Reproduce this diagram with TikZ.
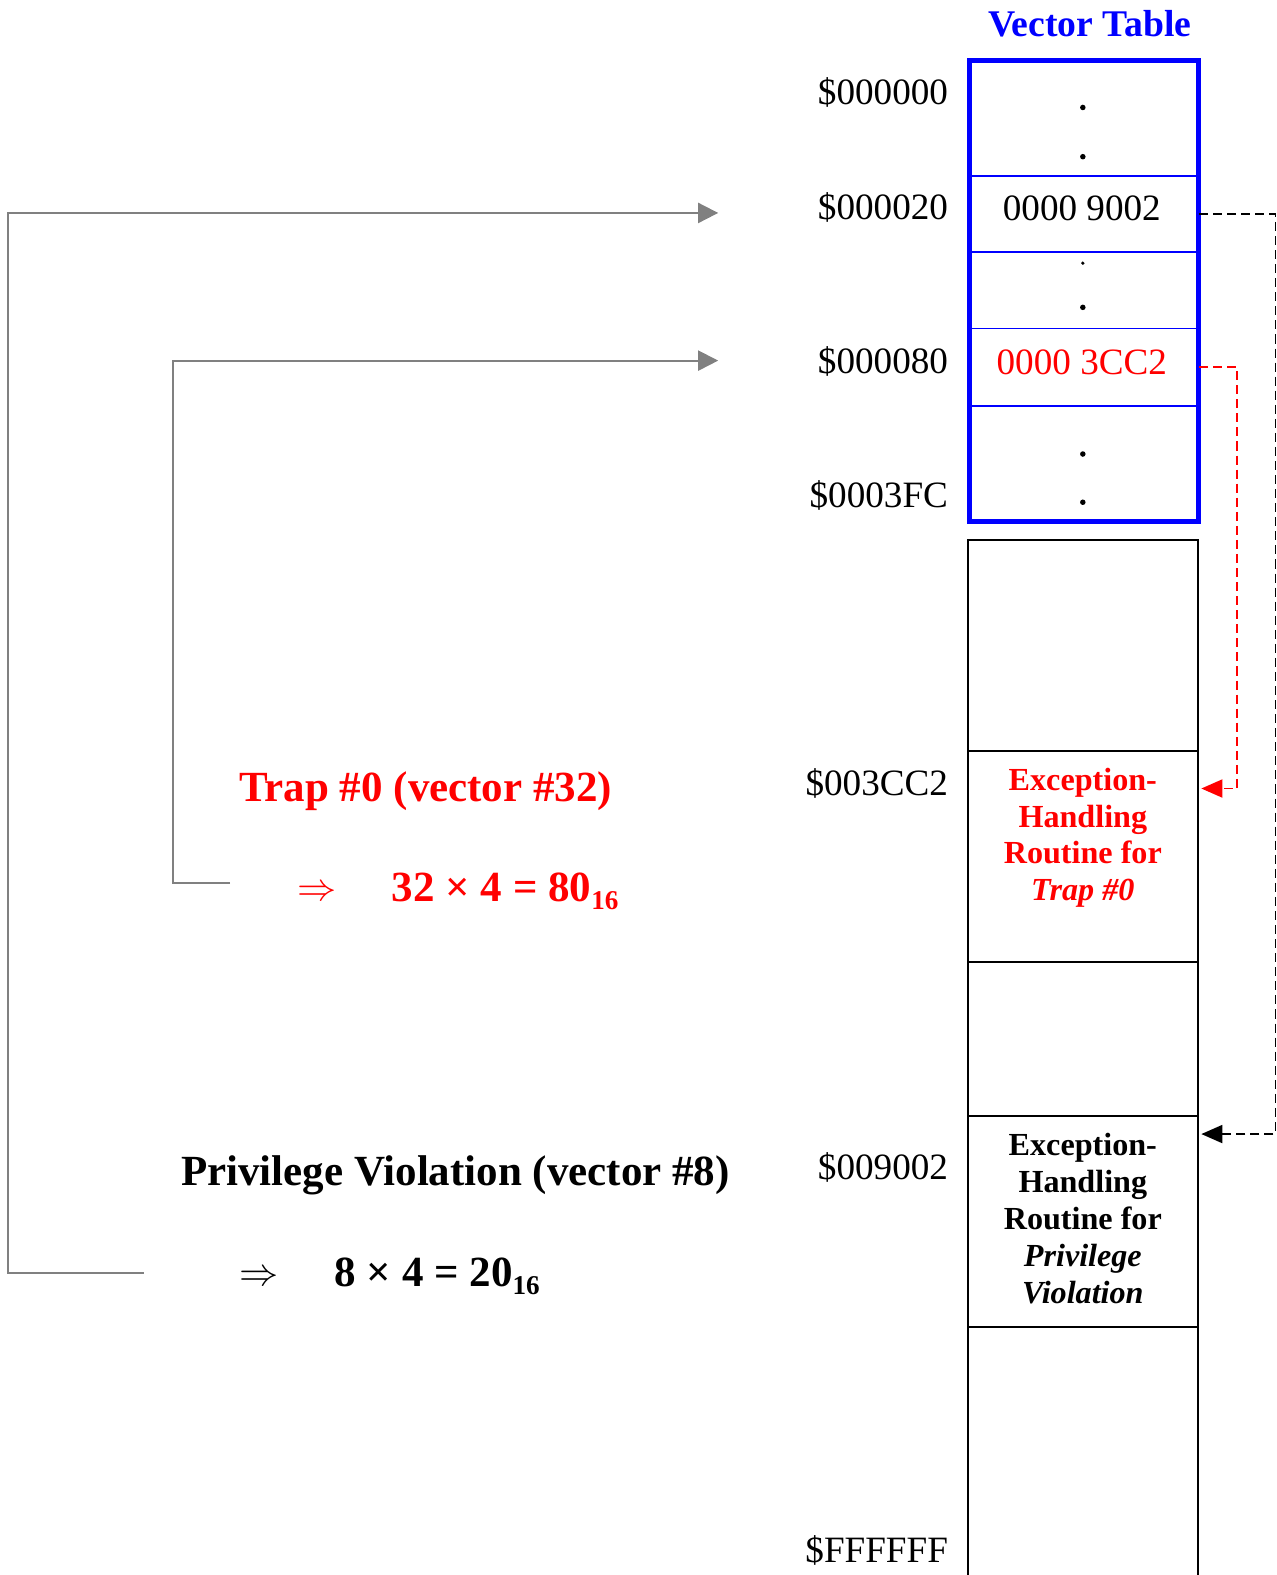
\documentclass[tikz,border=0pt]{standalone}
\usepackage{fontspec}
\setmainfont{Liberation Serif}
\usetikzlibrary{arrows.meta,calc}
\begin{document}
\begin{tikzpicture}[x=1pt,y=-1pt]
\tikzset{
 addr/.style={anchor=base east, inner sep=0pt, font=\fontsize{37}{44}\selectfont},
 vtext/.style={anchor=base, inner sep=0pt, font=\fontsize{37}{44}\selectfont},
 vrow/.style={draw=blue, line width=1.5pt, minimum width=228pt, inner sep=0pt},
 mcell/.style={draw=black, line width=2pt, minimum width=229pt, inner sep=0pt},
 routine/.style={align=center, inner sep=0pt, font=\fontsize{32}{36.7}\selectfont\bfseries},
 bigtext/.style={anchor=base west, inner sep=0pt, font=\fontsize{42.8}{50}\selectfont\bfseries},
 implies/.style={anchor=base west, inner sep=0pt},
 gconn/.style={draw=gray, line width=2pt, -{Triangle[length=20pt,width=20pt]}},
 dconn/.style={dash pattern=on 9pt off 5pt, line width=1.8pt, -{Triangle[length=21pt,width=18pt]}},
 dotmark/.style={circle, fill=black, inner sep=0pt, minimum size=5.5pt}
}
\useasboundingbox (0,0) rectangle (1271,1568);

% title
\node[anchor=base, inner sep=0pt, font=\fontsize{37.5}{44}\selectfont\bfseries, text=blue] (title) at (1085,36) {Vector Table};

% vector table rows
\node[vrow, minimum height=115pt] (r0) at (1079,117.5) {};
\node[vrow, minimum height=76pt] (r20) at (1079,213) {};
\node[vrow, minimum height=76pt] (rd) at (1079,289) {};
\node[vrow, minimum height=77pt] (r80) at (1079,365.5) {};
\node[vrow, minimum height=115pt] (rend) at (1079,461.5) {};
\draw[blue, line width=5pt] (965,60) rectangle (1193,519);

% dots
\node[dotmark] (d1) at (1078,107) {};
\node[dotmark] (d2) at (1078,156) {};
\node[dotmark, minimum size=3.5pt] (d3) at (1078,262) {};
\node[dotmark] (d4) at (1078,306) {};
\node[dotmark] (d5) at (1078,452) {};
\node[dotmark] (d6) at (1078,500) {};

% vector contents
\node[vtext] (t20) at (1077,220) {0000 9002};
\node[vtext, text=red] (t80) at (1077,373) {0000 3CC2};

% addresses
\node[addr] (a0) at (944,104) {\$000000};
\node[addr] (a20) at (944,219) {\$000020};
\node[addr] (a80) at (944,372) {\$000080};
\node[addr] (a3fc) at (944,505) {\$0003FC};
\node[addr] (a3cc2) at (944,792) {\$003CC2};
\node[addr] (a9002) at (944,1174) {\$009002};
\node[addr] (affff) at (944,1556) {\$FFFFFF};

% memory cells
\node[mcell, minimum height=210pt] (m1) at (1078.5,643) {};
\node[mcell, minimum height=210pt] (m2) at (1078.5,853) {};
\node[mcell, minimum height=153pt] (m3) at (1078.5,1034.5) {};
\node[mcell, minimum height=210pt] (m4) at (1078.5,1216) {};
\node[mcell, minimum height=280pt] (m5) at (1078.5,1461) {};

% routine texts
\node[routine, text=red] (rt1) at (1078,834) {Exception-\\Handling\\Routine for\\\textit{Trap \#0}};
\node[routine] (rt2) at (1078,1213) {Exception-\\Handling\\Routine for\\\textit{Privilege}\\\textit{Violation}};

% dashed connectors
\coordinate (pt2) at ($(m2.north east)+(2,38)$);
\coordinate (pt1) at ($(m4.north east)+(2,19)$);
\draw[dconn, red] (r80.east) -- ++(38,0) |- (pt2);
\draw[dconn, black] (r20.east) -- ++(76,0) |- (pt1);

% left texts
\node[bigtext, text=red] (trap) at (238,798) {Trap \#0 (vector \#32)};
\node[implies, text=red] (trapimp) at (296,896) {\resizebox{39pt}{!}{$\Rightarrow$}};
\node[bigtext, text=red] (trapcalc) at (390,897) {32 × 4 = 80\raisebox{-8pt}{\fontsize{27}{30}\selectfont 16}};
\node[bigtext] (priv) at (180,1180) {Privilege Violation (vector \#8)};
\node[implies] (privimp) at (238,1280) {\resizebox{39pt}{!}{$\Rightarrow$}};
\node[bigtext] (privcalc) at (333,1281) {8 × 4 = 20\raisebox{-8pt}{\fontsize{27}{30}\selectfont 16}};

% gray connectors
\coordinate (g1s) at (143,1267);
\coordinate (g1e) at (715,212);
\coordinate (g2s) at (229,879);
\coordinate (g2e) at (715,359);
\draw[gconn] (g1s) -- ++(-135,0) |- (g1e);
\draw[gconn] (g2s) -- ++(-57,0) |- (g2e);
\end{tikzpicture}
\end{document}
